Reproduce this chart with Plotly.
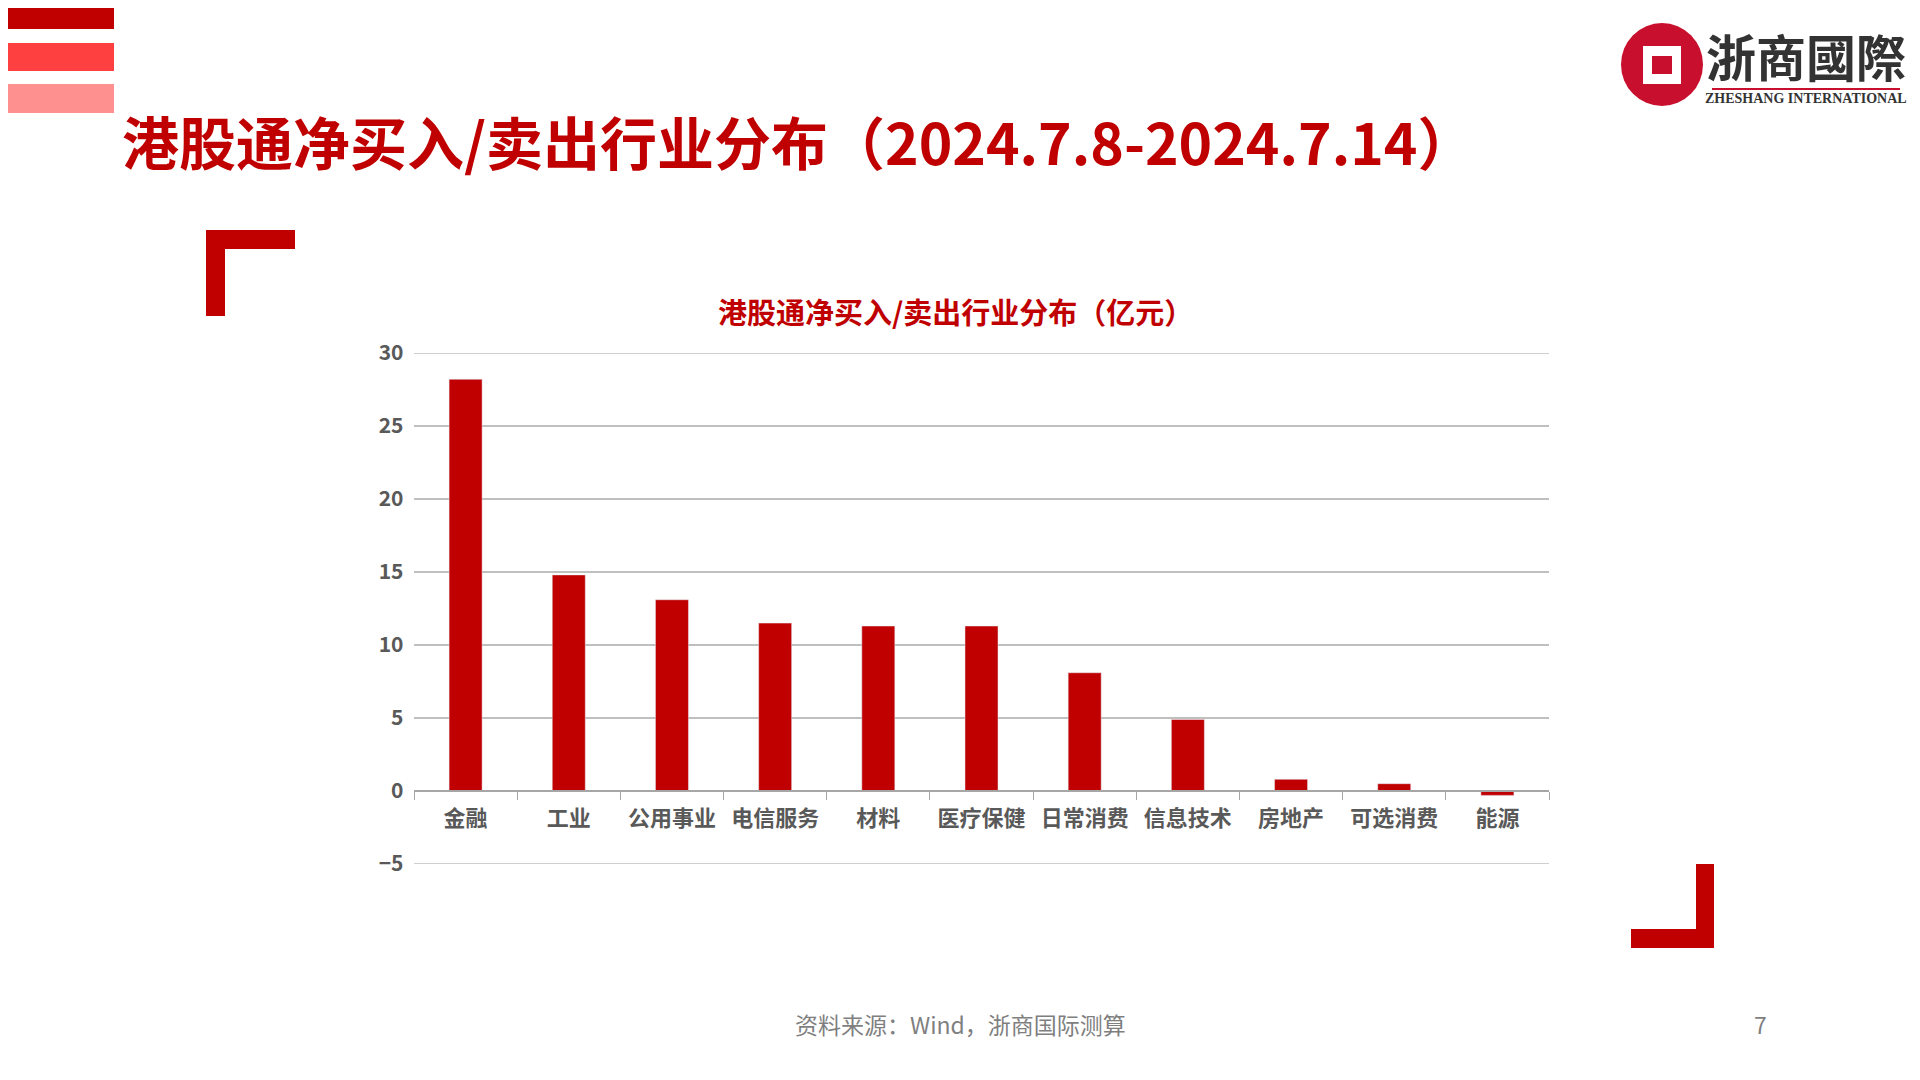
import plotly.graph_objects as go

categories = ['金融', '工业', '公用事业', '电信服务', '材料', '医疗保健', '日常消费', '信息技术', '房地产', '可选消费', '能源']
values = [28.2, 14.8, 13.1, 11.5, 11.3, 11.3, 8.1, 4.9, 0.8, 0.5, -0.3]

# the page body has an 8px margin, so everything is placed 8px up/left
OFF = 8
W, H = 1920 - OFF, 1080 - OFF
L, R, T, B = 414 - OFF, 371, 353 - OFF, 216
FONT = 'Noto Sans CJK SC'
RED = '#C00000'


def px(x):
    return (x - OFF - L) / (W - L - R)


def py(y):
    return (H - B - (y - OFF)) / (H - T - B)


def rect(x0, y0, x1, y1, color):
    return dict(type='rect', xref='paper', yref='paper', x0=px(max(x0, OFF)), x1=px(x1),
                y0=py(y1), y1=py(max(y0, OFF)), fillcolor=color, line_width=0, layer='above')


fig = go.Figure()
fig.add_trace(go.Bar(x=categories, y=values, marker_color=RED, width=0.32))

shapes = [
    # top-left stripes
    rect(0, 0, 114, 29, '#C00000'),
    rect(0, 43, 114, 71, '#FF4040'),
    rect(0, 84, 114, 113, '#FF9090'),
    # corner brackets
    rect(206, 230, 225, 316, RED),
    rect(206, 230, 295, 249, RED),
    rect(1696, 864, 1714, 948, RED),
    rect(1631, 929, 1714, 948, RED),
    # logo
    dict(type='circle', xref='paper', yref='paper', x0=px(1621), x1=px(1703),
         y0=py(106), y1=py(23), fillcolor='#C8102E', line_width=0),
    dict(type='rect', xref='paper', yref='paper', x0=px(1643), x1=px(1681),
         y0=py(84), y1=py(46), fillcolor='white', line_width=0),
    dict(type='rect', xref='paper', yref='paper', x0=px(1652), x1=px(1672),
         y0=py(74), y1=py(56), fillcolor='#C8102E', line_width=0),
    dict(type='line', xref='paper', yref='paper', x0=px(1712), x1=px(1900),
         y0=py(89), y1=py(89), line=dict(color='#C8102E', width=2)),
]
# gridlines at the ends of the range, which plotly leaves out
for yv in (30, -5):
    shapes.append(dict(type='line', xref='paper', yref='y', x0=0, x1=1, y0=yv, y1=yv,
                       line=dict(color='#BFBFBF', width=1.5), layer='below'))

annotations = [
    dict(text='<b>港股通净买入/卖出行业分布（2024.7.8-2024.7.14）</b>', x=px(120), y=py(140),
         xanchor='left', yanchor='middle', font=dict(family=FONT, size=57, color=RED)),
    dict(text='<b>港股通净买入/卖出行业分布（亿元）</b>', x=px(955), y=py(311),
         xanchor='center', yanchor='middle', font=dict(family=FONT, size=29, color=RED)),
    dict(text='资料来源：Wind，浙商国际测算', x=px(960), y=py(1024),
         xanchor='center', yanchor='middle', font=dict(family=FONT, size=23, color='#7F7F7F')),
    dict(text='7', x=px(1760), y=py(1024), xanchor='center', yanchor='middle',
         font=dict(family=FONT, size=23, color='#7F7F7F')),
    dict(text='<b>浙商國際</b>', x=px(1806), y=py(55), xanchor='center', yanchor='middle',
         font=dict(family='Noto Sans CJK TC', size=50, color='#333333')),
    dict(text='<b>ZHESHANG INTERNATIONAL</b>', x=px(1806), y=py(99), xanchor='center', yanchor='middle',
         font=dict(family='Liberation Serif', size=14, color='#333333')),
]
for a in annotations:
    a.update(xref='paper', yref='paper', showarrow=False)

fig.update_layout(
    width=W, height=H, margin=dict(l=L, r=R, t=T, b=B),
    paper_bgcolor='white', plot_bgcolor='white',
    shapes=shapes, annotations=annotations, showlegend=False, bargap=0.6,
    font=dict(family=FONT),
)
fig.update_xaxes(anchor='free', position=5 / 35, showline=True, linecolor='#A6A6A6', linewidth=1.5,
                 ticks='outside', tickson='boundaries', ticklen=8, tickcolor='#A6A6A6',
                 ticklabelstandoff=8,
                 tickfont=dict(family=FONT, size=22, color='#595959', weight='bold'), showgrid=False)
fig.update_yaxes(range=[-5, 30], dtick=5, showgrid=True, gridcolor='#BFBFBF', gridwidth=1.5,
                 zeroline=False, ticksuffix='  ', tickformat='d',
                 tickfont=dict(family=FONT, size=21, color='#595959', weight='bold'))
fig.write_html('out.html')
